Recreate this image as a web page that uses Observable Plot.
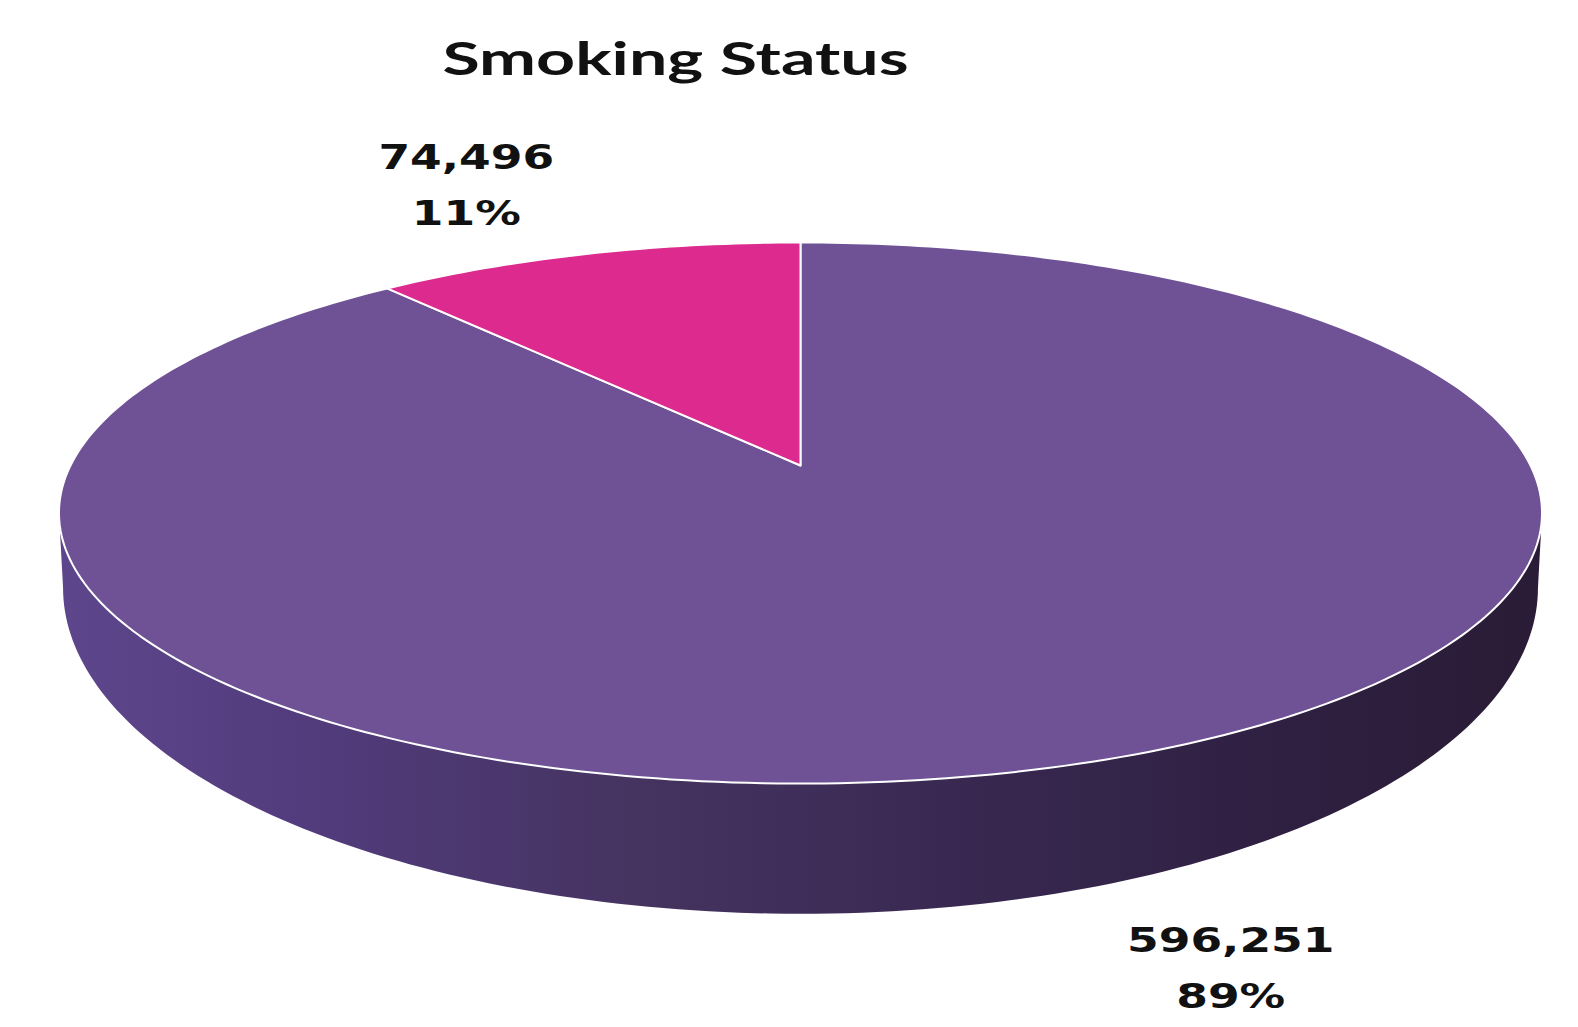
<!DOCTYPE html>
<html>
<head>
<meta charset="utf-8">
<script src="https://cdn.jsdelivr.net/npm/d3@7"></script>
<script src="https://cdn.jsdelivr.net/npm/@observablehq/plot@0.6"></script>
<style>
  html, body { margin: 0; padding: 0; background: #ffffff; }
  #chart { width: 1578px; height: 1027px; overflow: hidden; }
</style>
</head>
<body>
<div id="chart"></div>
<script>
// ---------------- data ----------------
const categories = ["Non-smoker", "Smoker"];
const values = [596251, 74496];
const valueLabels = ["596,251", "74,496"];
const percentLabels = ["89%", "11%"];
const sliceColors = ["#6f5296", "#dd2a8e"];
const chartTitle = "Smoking Status";

// ---------------- layout ----------------
const W = 1578, H = 1027;
// perspective ellipses of the pie's top face and bottom rim (pixel space)
const topE = {cx: 800, cy: 465, a: 730, b: 262.2, k: 0.1756};
const botE = {cx: 800, cy: 530, a: 726, b: 316, k: 0.1756};

function proj(e, deg, r = 1) {
  const t = deg * Math.PI / 180;
  const X = r * Math.sin(t), Y = r * Math.cos(t);
  const d = 1 + e.k * Y;
  return [e.cx + e.a * X / d, e.cy - e.b * Y / d];
}

const total = d3.sum(values);
let acc = 0;
const slices = categories.map((name, i) => {
  const a0 = acc / total * 360;
  acc += values[i];
  const a1 = acc / total * 360;
  return {name, value: values[i], a0, a1, i};
});

// top face polygons
const topPts = slices.flatMap(s => {
  const n = Math.max(2, Math.ceil(s.a1 - s.a0));
  const pts = [{name: s.name, px: topE.cx, py: topE.cy}];
  for (let j = 0; j <= n; j++) {
    const [x, y] = proj(topE, s.a0 + (s.a1 - s.a0) * j / n);
    pts.push({name: s.name, px: x, py: y});
  }
  return pts;
});

// visible front side band
const wideTop = Math.acos(-topE.k) * 180 / Math.PI;
const wideBot = Math.acos(-botE.k) * 180 / Math.PI;
const sidePts = slices.flatMap(s => {
  const lo = Math.max(s.a0, wideTop), hi = Math.min(s.a1, 360 - wideTop);
  if (hi <= lo) return [];
  const loB = Math.max(s.a0, wideBot), hiB = Math.min(s.a1, 360 - wideBot);
  const pts = [];
  const n = Math.ceil(hi - lo);
  for (let j = 0; j <= n; j++) {
    const [x, y] = proj(topE, lo + (hi - lo) * j / n);
    pts.push({name: s.name, px: x, py: y});
  }
  const m = Math.ceil(hiB - loB);
  for (let j = m; j >= 0; j--) {
    const [x, y] = proj(botE, loB + (hiB - loB) * j / m);
    pts.push({name: s.name, px: x, py: y});
  }
  return pts;
});

// label anchors: edge point at each slice's mid angle
const labelData = slices.map(s => {
  const mid = (s.a0 + s.a1) / 2;
  const front = mid > 90 && mid < 270;
  const [x, y] = proj(front ? botE : topE, mid);
  return {i: s.i, x, y, text: valueLabels[s.i] + "\n" + percentLabels[s.i]};
});

const labelStyle = {
  x: "x", y: "y", text: "text",
  fontFamily: "DejaVu Sans", fontWeight: "bold", fontSize: 33,
  fill: "#111111", lineHeight: 1.7, textAnchor: "middle"
};

const chart = Plot.plot({
  width: W, height: H,
  margin: 0,
  x: {domain: [0, W], range: [0, W], axis: null},
  y: {domain: [0, H], range: [0, H], axis: null},
  color: {domain: categories, range: sliceColors},
  style: {background: "#ffffff", overflow: "visible"},
  marks: [
    Plot.line(sidePts, {x: "px", y: "py", z: "name", fill: "url(#sideGrad)", stroke: "none", curve: "linear-closed"}),
    Plot.line(topPts, {x: "px", y: "py", z: "name", fill: "name", stroke: "#ffffff", strokeWidth: 2, strokeLinejoin: "round", curve: "linear-closed"}),
    Plot.text(labelData, {...labelStyle, filter: d => d.i === 0, dx: 133, dy: 76}),
    Plot.text(labelData, {...labelStyle, filter: d => d.i === 1, dx: -120, dy: -75}),
    Plot.text([chartTitle], {frameAnchor: "top", lineAnchor: "middle", dx: -114, dy: 60,
      fontFamily: "Lato", fontWeight: "bold", fontSize: 46, fill: "#111111"})
  ]
});

// gradient for the side band
d3.select(chart).insert("defs", ":first-child").html(`
  <linearGradient id="sideGrad" x1="0" x2="1" y1="0" y2="0">
    <stop offset="0" stop-color="#5e468c"/>
    <stop offset="0.18" stop-color="#513b7b"/>
    <stop offset="0.4" stop-color="#45335f"/>
    <stop offset="0.5" stop-color="#3f2e59"/>
    <stop offset="0.62" stop-color="#382850"/>
    <stop offset="0.82" stop-color="#2f2042"/>
    <stop offset="1" stop-color="#2a1b36"/>
  </linearGradient>`);

document.getElementById("chart").appendChild(chart);

// the reference text is horizontally stretched
const textGroups = chart.querySelectorAll('g[aria-label="text"]');
textGroups.forEach((g, gi) => {
  const sx = gi === textGroups.length - 1 ? 1.48 : 1.38;
  g.querySelectorAll("text").forEach(t => {
    t.setAttribute("transform", (t.getAttribute("transform") || "") + ` scale(${sx},1)`);
  });
});
</script>
</body>
</html>
